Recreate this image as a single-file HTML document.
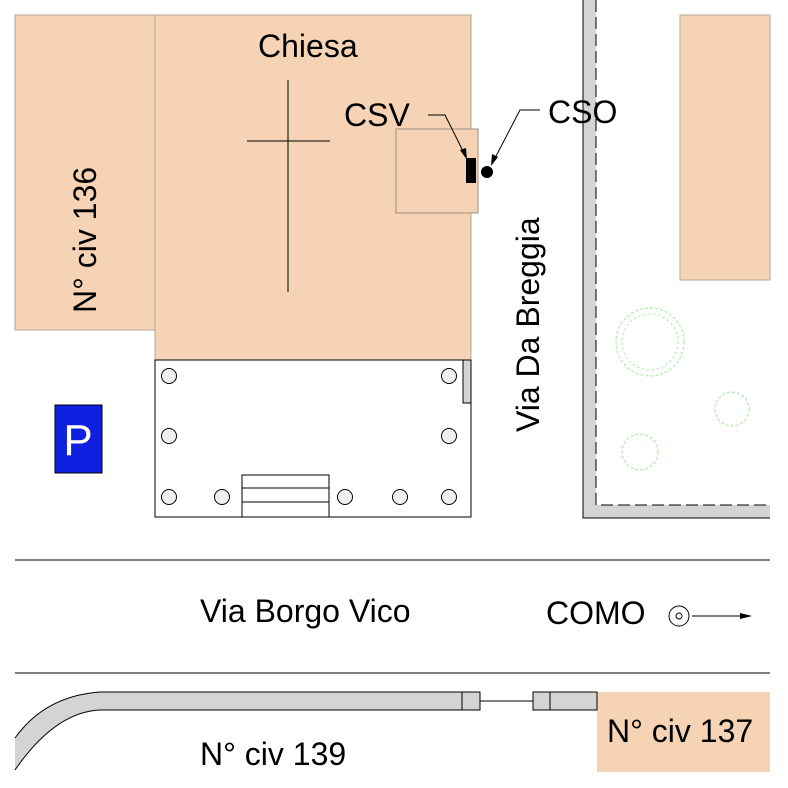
<!DOCTYPE html>
<html><head><style>body{margin:0;background:#fff}svg{display:block}text{font-family:"Liberation Sans",sans-serif;fill:#000}</style></head><body>
<svg width="788" height="788" viewBox="0 0 788 788" xmlns="http://www.w3.org/2000/svg">
<rect width="788" height="788" fill="#fff"/>
<g fill="#f5d3b4" stroke="#b8a898" stroke-width="1">
<rect x="15" y="15" width="140" height="315"/>
<rect x="155" y="15" width="316" height="345"/>
<rect x="680" y="15" width="90" height="265"/>
<rect x="597" y="692" width="173" height="80" stroke="none"/>
</g>
<rect x="396" y="129" width="82" height="84" fill="#f5d3b4" stroke="#a09080"/>
<path d="M288 80V292M247 141H330" stroke="#000" fill="none"/>
<rect x="466" y="158" width="10" height="25" fill="#000"/>
<circle cx="487" cy="172" r="6" fill="#000"/>
<path d="M428 115H445L465 155" stroke="#000" fill="none"/>
<path d="M467 160L460 150L466 148Z" fill="#000"/>
<path d="M540 110H520L494 160" stroke="#000" fill="none"/>
<path d="M491 166L492 154L498 157Z" fill="#000"/>
<rect x="155" y="360" width="316" height="157" fill="#fff" stroke="#000"/>
<rect x="463" y="360" width="8" height="43" fill="#d4d4d4" stroke="#000"/>
<g fill="#f0f0f0" stroke="#000">
<circle cx="169" cy="376" r="7.5"/><circle cx="449" cy="376" r="7.5"/>
<circle cx="169" cy="436" r="7.5"/><circle cx="449" cy="436" r="7.5"/>
<circle cx="169" cy="497" r="7.5"/><circle cx="222" cy="497" r="7.5"/><circle cx="345" cy="497" r="7.5"/><circle cx="400" cy="497" r="7.5"/><circle cx="449" cy="497" r="7.5"/>
</g>
<rect x="242" y="475" width="87" height="42" fill="#fff" stroke="#000"/>
<path d="M242 488H329M242 502H329" stroke="#000"/>
<path d="M583 0V518H770V505H596V0Z" fill="#d4d4d4"/>
<path d="M583 0V518H770" stroke="#000" fill="none"/>
<path d="M596 0V505H770" stroke="#000" fill="none" stroke-dasharray="12,5"/>
<g stroke="#a8f0a0" fill="none" stroke-width="1.2">
<circle cx="650" cy="342" r="34" stroke-dasharray="3,2"/><circle cx="650" cy="342" r="28" stroke-dasharray="2,3"/>
<circle cx="732" cy="409" r="17" stroke-dasharray="3,2"/>
<circle cx="640" cy="452" r="18" stroke-dasharray="3,2"/>
</g>
<rect x="55" y="405" width="47" height="68" fill="#1020e0" stroke="#000"/>
<text x="78" y="455" font-size="44" text-anchor="middle" style="fill:#fff">P</text>
<path d="M15 560H770M15 673H770" stroke="#000"/>
<path d="M15 738Q45 696 100 692H480V710H100Q55 712 15 770Z" fill="#d4d4d4"/>
<path d="M15 738Q45 696 100 692H480V710H100Q55 712 15 770" stroke="#000" fill="none"/>
<path d="M462 692V710M480 701H533" stroke="#000"/>
<rect x="533" y="692" width="64" height="18" fill="#d4d4d4" stroke="#000"/>
<path d="M550 692V710" stroke="#000"/>
<circle cx="679" cy="616" r="10" fill="none" stroke="#000"/><circle cx="679" cy="616" r="3" fill="none" stroke="#000"/>
<path d="M692 616H750" stroke="#000"/><path d="M740 613L752 616L740 619Z" fill="#000"/>
<g font-size="32">
<text x="258" y="57">Chiesa</text>
<text x="344" y="126">CSV</text>
<text x="548" y="123">CSO</text>
<text x="200" y="622">Via Borgo Vico</text>
<text x="546" y="624">COMO</text>
<text x="200" y="765">N° civ 139</text>
<text x="607" y="742">N° civ 137</text>
<text transform="translate(96,313) rotate(-90)">N° civ 136</text>
<text transform="translate(539,432) rotate(-90)">Via Da Breggia</text>
</g>
</svg>
</body></html>
